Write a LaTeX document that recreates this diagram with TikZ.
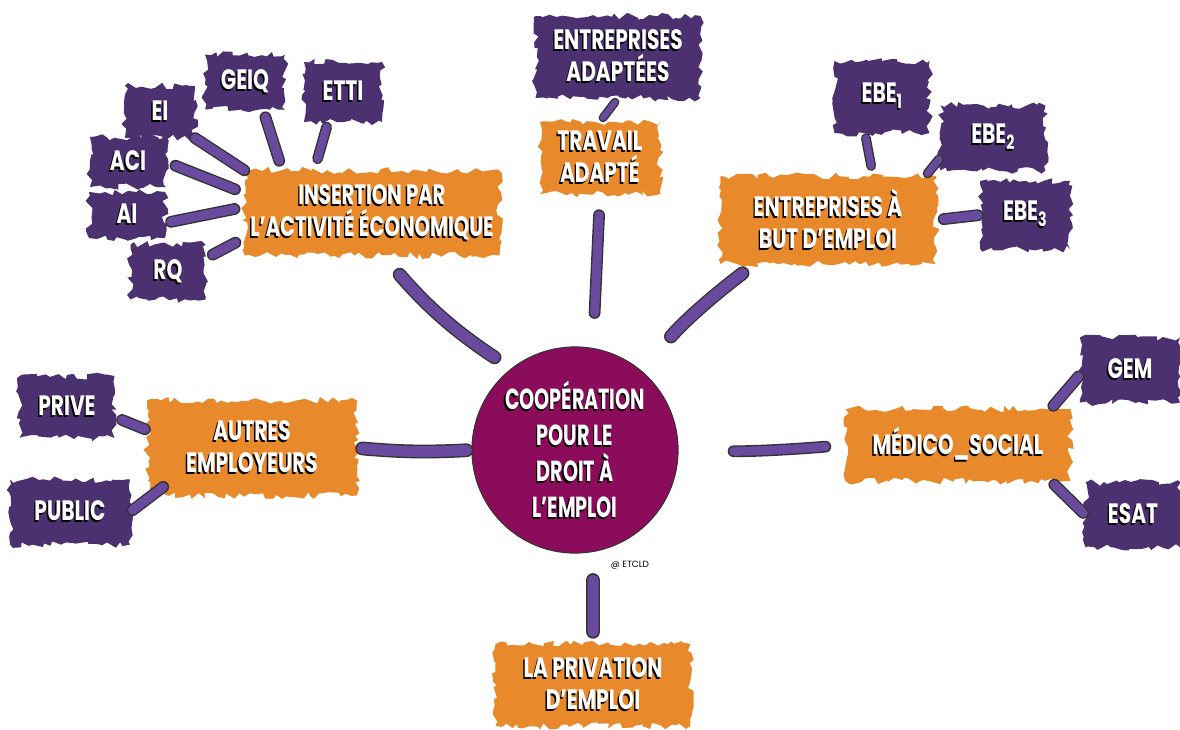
\documentclass[tikz,border=0pt]{standalone}
\usepackage{xcolor}
\usepackage{graphicx}
\usepackage{fontspec}
\setmainfont{Poppins}
\usetikzlibrary{decorations.pathmorphing}
\definecolor{purp}{HTML}{4B3170}
\definecolor{orng}{HTML}{E8892C}
\definecolor{plum}{HTML}{8C0C5C}
\definecolor{linkc}{HTML}{6A4A9E}
\newcommand\hand[2][0.72]{\scalebox{#1}[1]{\rlap{\color{black}\kern-2pt\raisebox{-2pt}{#2}}#2}}
\tikzset{
    blob/.style={fill=purp, text=white, align=center, inner sep=0pt,
        decorate, decoration={random steps, segment length=5pt, amplitude=3.5pt},
        font=\bfseries\fontsize{28}{32}\selectfont},
    brush/.style={blob, fill=orng},
    link/.style={draw=linkc, line width=9pt, line cap=round,
        preaction={draw=black!80, line cap=round, line width=\pgflinewidth+1.4pt}}
}
\begin{document}
\pgfmathsetseed{7}
\begin{tikzpicture}[x=1pt,y=-1pt]
                    \useasboundingbox (0,0) rectangle (1180,730);
                    \node[circle, fill=plum, draw=black!80, line width=1pt, minimum size=192pt, text=white, align=center,
                        font=\bfseries\fontsize{29}{36}\selectfont] (coop) at (575,450)
                        {\hand[0.66]{COOPÉRATION}\\\hand[0.66]{POUR LE}\\\hand[0.66]{DROIT À}\\\hand[0.66]{L'EMPLOI}};
                    \node[font=\fontsize{9}{10}\selectfont] (etcld) at (630,565) {@ ETCLD};

                    \node[brush, minimum width=255pt, minimum height=85pt] (iae) at (372,213)
                        {\hand[0.7]{INSERTION PAR}\\\hand[0.7]{L'ACTIVITÉ ÉCONOMIQUE}};
                    \node[blob, minimum width=70pt, minimum height=52pt] (ei) at (160,112) {\hand{EI}};
                    \node[blob, minimum width=80pt, minimum height=55pt] (geiq) at (245,82) {\hand{GEIQ}};
                    \node[blob, minimum width=78pt, minimum height=60pt] (etti) at (343,92) {\hand{ETTI}};
                    \node[blob, minimum width=76pt, minimum height=50pt] (aci) at (128,162) {\hand{ACI}};
                    \node[blob, minimum width=76pt, minimum height=46pt] (ai) at (127,215) {\hand{AI}};
                    \node[blob, minimum width=75pt, minimum height=55pt] (rq) at (168,272) {\hand{RQ}};

                    \node[blob, minimum width=165pt, minimum height=82pt] (ea) at (618,57)
                        {\hand{ENTREPRISES}\\\hand{ADAPTÉES}};
                    \node[brush, minimum width=120pt, minimum height=72pt] (ta) at (600,158)
                        {\hand{TRAVAIL}\\\hand{ADAPTÉ}};

                    \node[brush, minimum width=215pt, minimum height=88pt] (ebe) at (828,220)
                        {\hand{ENTREPRISES À}\\\hand{BUT D'EMPLOI}};
                    \node[blob, minimum width=95pt, minimum height=72pt] (ebe1) at (882,97) {\hand{EBE\textsubscript{1}}};
                    \node[blob, minimum width=105pt, minimum height=65pt] (ebe2) at (993,138) {\hand{EBE\textsubscript{2}}};
                    \node[blob, minimum width=90pt, minimum height=68pt] (ebe3) at (1025,215) {\hand{EBE\textsubscript{3}}};

                    \node[brush, minimum width=210pt, minimum height=95pt] (autres) at (252,448)
                        {\hand{AUTRES}\\\hand{EMPLOYEURS}};
                    \node[blob, minimum width=95pt, minimum height=62pt] (prive) at (67,407) {\hand{PRIVE}};
                    \node[blob, minimum width=120pt, minimum height=65pt] (public) at (70,512) {\hand{PUBLIC}};

                    \node[brush, minimum width=225pt, minimum height=72pt] (medico) at (958,445) {\hand{MÉDICO\_SOCIAL}};
                    \node[blob, minimum width=100pt, minimum height=65pt] (gem) at (1130,370) {\hand{GEM}};
                    \node[blob, minimum width=95pt, minimum height=65pt] (esat) at (1133,515) {\hand{ESAT}};

                    \node[brush, minimum width=195pt, minimum height=82pt] (priv) at (593,685)
                        {\hand{LA PRIVATION}\\\hand{D'EMPLOI}};

                    % branches from the centre
                    \draw[link, line width=11pt, shorten <=20pt, shorten >=25pt] (coop.128) to[bend left=8] (iae.-75);
                    \draw[link, shorten <=35pt, shorten >=21pt] (coop.80) -- (ta.south);
                    \draw[link, line width=11pt, shorten <=45pt, shorten >=15pt] (coop.50) to[bend left=6] (ebe.211);
                    \draw[link, line width=11pt, shorten <=5pt, shorten >=5pt] (coop.west) to[bend left=4] (autres.east);
                    \draw[link, shorten <=55pt, shorten >=20pt] (coop.east) to[bend right=3] (medico.west);
                    \draw[link, line width=11pt, shorten <=28pt, shorten >=12pt] (coop.-80) -- (priv.north);

                    % sub-branches
                    \draw[link, line width=6pt, shorten <=5pt, shorten >=5pt] (ea.south) -- (ta.north);
                    \draw[link] (iae.north west) -- (ei.south east);
                    \draw[link, shorten <=10pt, shorten >=8pt] ([xshift=38pt]iae.north west) -- ([xshift=18pt]geiq.south);
                    \draw[link, line width=8pt, shorten <=12pt, shorten >=5pt] ([xshift=70pt]iae.north west) -- ([xshift=-15pt]etti.south);
                    \draw[link, shorten <=10pt, shorten >=10pt] (aci.east) -- ([yshift=20pt]iae.west);
                    \draw[link, shorten <=6pt, shorten >=10pt] ([yshift=-8pt]ai.east) -- ([yshift=6pt]iae.west);
                    \draw[link, shorten <=8pt, shorten >=10pt] ([yshift=-14pt]rq.north east) -- ([yshift=-25pt]iae.west);

                    \draw[link, line width=7pt, shorten <=5pt, shorten >=10pt] ([xshift=-17pt]ebe1.south) -- ([xshift=45pt]ebe.north);
                    \draw[link, line width=7pt, shorten <=2pt, shorten >=3pt] ([yshift=13pt]ebe2.south west) -- ([xshift=-10pt]ebe.north east);
                    \draw[link, shorten <=8pt, shorten >=2pt] (ebe.east) -- (ebe3.west);

                    \draw[link, shorten <=8pt, shorten >=2pt] ([yshift=-10pt]prive.east) -- ([yshift=18pt]autres.west);
                    \draw[link, shorten <=3pt, shorten >=2pt] (public.east) -- ([xshift=18pt,yshift=10pt]autres.south west);

                    \draw[link, shorten <=4pt, shorten >=2pt] ([xshift=-20pt]medico.north east) -- ([yshift=-5pt]gem.west);
                    \draw[link, shorten <=5pt, shorten >=3pt] ([xshift=-20pt]medico.south east) -- (esat.west);
                \end{tikzpicture}
\end{document}
